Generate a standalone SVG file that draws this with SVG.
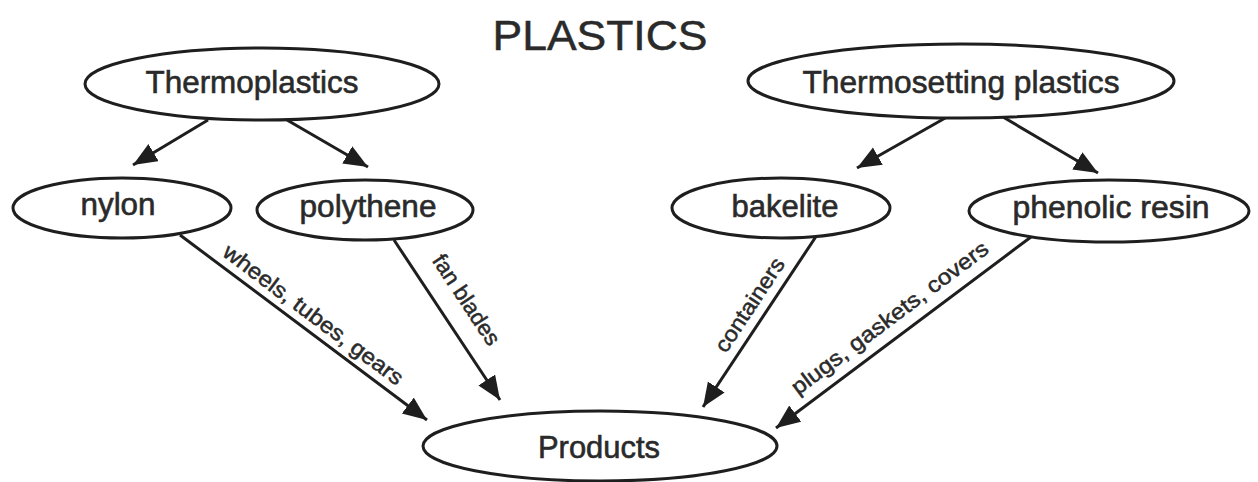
<svg xmlns="http://www.w3.org/2000/svg" width="1258" height="482" viewBox="0 0 1258 482">
  <style>
    .node ellipse { fill: #ffffff; stroke: #1e1e1e; stroke-width: 3; }
    .node text { font-family: "Liberation Sans", Arial, sans-serif; font-size: 31px; fill: #2a2a2a; stroke: #2a2a2a; stroke-width: 0.6; text-anchor: middle; }
    .title { font-family: "Liberation Sans", Arial, sans-serif; font-size: 42px; fill: #2a2a2a; stroke: #2a2a2a; stroke-width: 0.5; text-anchor: middle; }
    .edge { stroke: #1e1e1e; stroke-width: 3; fill: none; marker-end: url(#arrow); }
    .lbl { font-family: "Liberation Sans", Arial, sans-serif; font-size: 22px; fill: #2a2a2a; stroke: #2a2a2a; stroke-width: 0.5; text-anchor: middle; }
  </style>
  <defs>
    <marker id="arrow" markerUnits="userSpaceOnUse" markerWidth="26" markerHeight="22" refX="24" refY="10" orient="auto">
      <path d="M0,0 L24,10 L0,20 z" fill="#1e1e1e"/>
    </marker>
  </defs>
  <rect width="1258" height="482" fill="#ffffff"/>
  <text class="title" x="600" y="50" textLength="215" lengthAdjust="spacingAndGlyphs">PLASTICS</text>

  <g id="connectors">
    <line class="edge" x1="208" y1="120" x2="133" y2="165"/>
    <line class="edge" x1="287" y1="120" x2="368" y2="167"/>
    <line class="edge" x1="947" y1="117" x2="857" y2="168"/>
    <line class="edge" x1="1003" y1="117" x2="1098" y2="173"/>
    <line class="edge" x1="180" y1="235" x2="427" y2="420"/>
    <line class="edge" x1="394" y1="240" x2="500" y2="400"/>
    <line class="edge" x1="817" y1="235" x2="703" y2="407"/>
    <line class="edge" x1="1031" y1="237" x2="776" y2="428"/>
    <g transform="translate(313,315) rotate(36.8)"><text class="lbl" x="0" y="7" textLength="219" lengthAdjust="spacingAndGlyphs">wheels, tubes, gears</text></g>
    <g transform="translate(466,300) rotate(56.5)"><text class="lbl" x="0" y="7" textLength="104" lengthAdjust="spacingAndGlyphs">fan blades</text></g>
    <g transform="translate(750,305) rotate(-56.5)"><text class="lbl" x="0" y="7" textLength="108" lengthAdjust="spacingAndGlyphs">containers</text></g>
    <g transform="translate(890,318) rotate(-36.8)"><text class="lbl" x="0" y="7" textLength="240" lengthAdjust="spacingAndGlyphs">plugs, gaskets, covers</text></g>
  </g>

  <g id="thermoplastics" class="node">
    <ellipse cx="262" cy="84" rx="177" ry="36"/>
    <text x="252" y="93" textLength="213" lengthAdjust="spacingAndGlyphs">Thermoplastics</text>
  </g>
  <g id="thermosetting" class="node">
    <ellipse cx="961" cy="81" rx="213" ry="37"/>
    <text x="961" y="93" textLength="317" lengthAdjust="spacingAndGlyphs">Thermosetting plastics</text>
  </g>
  <g id="nylon" class="node">
    <ellipse cx="122" cy="208" rx="109" ry="30"/>
    <text x="118" y="215" textLength="75" lengthAdjust="spacingAndGlyphs">nylon</text>
  </g>
  <g id="polythene" class="node">
    <ellipse cx="365" cy="210" rx="108" ry="30"/>
    <text x="368" y="217" textLength="137" lengthAdjust="spacingAndGlyphs">polythene</text>
  </g>
  <g id="bakelite" class="node">
    <ellipse cx="781" cy="208" rx="109" ry="30"/>
    <text x="785" y="217" textLength="107" lengthAdjust="spacingAndGlyphs">bakelite</text>
  </g>
  <g id="phenolic" class="node">
    <ellipse cx="1109" cy="211" rx="140" ry="31"/>
    <text x="1111" y="218" textLength="197" lengthAdjust="spacingAndGlyphs">phenolic resin</text>
  </g>
  <g id="products" class="node">
    <ellipse cx="600" cy="446" rx="177" ry="35"/>
    <text x="599" y="458" textLength="122" lengthAdjust="spacingAndGlyphs">Products</text>
  </g>
</svg>
